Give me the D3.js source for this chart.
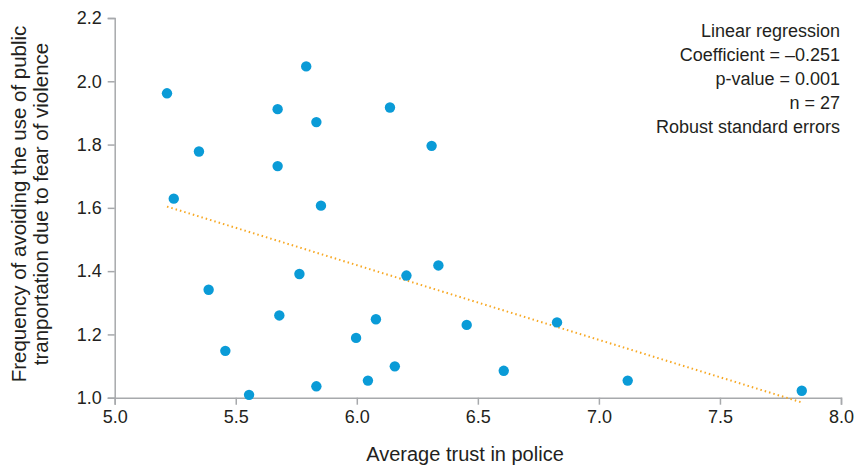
<!DOCTYPE html>
<html><head><meta charset="utf-8">
<script src="https://cdn.jsdelivr.net/npm/d3@7"></script>
<style>
body{margin:0;background:#fff;}
svg text{font-family:"Liberation Sans",Arial,sans-serif;fill:#231f20;}
</style></head><body>
<svg id="c" width="854" height="468"></svg>
<script>
const trust = [5.216,5.791,5.673,5.833,6.137,6.309,5.348,5.673,5.244,5.852,5.388,5.763,6.205,6.337,5.680,6.079,5.997,6.454,5.457,6.157,6.046,5.833,5.555,6.827,6.607,7.119,7.838];
const avoid = [1.962,2.047,1.912,1.871,1.917,1.796,1.778,1.732,1.629,1.607,1.341,1.391,1.386,1.418,1.260,1.248,1.189,1.230,1.148,1.099,1.054,1.036,1.009,1.238,1.085,1.054,1.022];
const regX = [5.216, 7.838];
const regY = [1.604, 0.985];
const xTicks = [5.0,5.5,6.0,6.5,7.0,7.5,8.0];
const yTicks = [1.0,1.2,1.4,1.6,1.8,2.0,2.2];
const notes = ["Linear regression","Coefficient = \u20130.251","p-value = 0.001","n = 27","Robust standard errors"];

const svg = d3.select("#c");
const x = d3.scaleLinear().domain([5,8]).range([114.7,841]);
const y = d3.scaleLinear().domain([1,2.2]).range([397.7,18]);
const axisColor = "#a7a9ac";

const gx = svg.append("g").attr("transform",`translate(0,${y(1)})`)
  .call(d3.axisBottom(x).tickValues(xTicks).tickFormat(d3.format(".1f")).tickSizeOuter(0).tickSize(7).tickPadding(6));
const gy = svg.append("g").attr("transform",`translate(${x(5)},0)`)
  .call(d3.axisLeft(y).tickValues(yTicks).tickFormat(d3.format(".1f")).tickSizeOuter(0).tickSize(7).tickPadding(6));
[gx,gy].forEach(g=>{
  g.select(".domain").attr("stroke",axisColor).attr("stroke-width",1.5);
  g.selectAll(".tick line").attr("stroke",axisColor).attr("stroke-width",1.5);
  g.selectAll(".tick text").attr("font-size",18).attr("fill","#231f20")
    .style("font-family",'"Liberation Sans",Arial,sans-serif');
});

svg.append("line")
  .attr("x1",x(regX[0])).attr("y1",y(regY[0]))
  .attr("x2",x(regX[1])).attr("y2",y(regY[1]))
  .attr("stroke","#f7a823").attr("stroke-width",2).attr("stroke-dasharray","1.5,3");

svg.append("g").selectAll("circle").data(trust).join("circle")
  .attr("cx",(d)=>x(d)).attr("cy",(d,i)=>y(avoid[i])).attr("r",5.2).attr("fill","#0a9bd7");

svg.append("text").attr("x",465).attr("y",461).attr("text-anchor","middle")
  .attr("font-size",20).text("Average trust in police");

const yt = svg.append("text").attr("transform","translate(0,204) rotate(-90)").attr("text-anchor","middle").attr("font-size",20.5);
yt.append("tspan").attr("x",0).attr("y",26).text("Frequency of avoiding the use of public");
yt.append("tspan").attr("x",0).attr("y",48).text("tranportation due to fear of violence");

svg.append("g").selectAll("text").data(notes).join("text")
  .attr("x",840).attr("y",(d,i)=>37+i*24).attr("text-anchor","end").attr("font-size",18).text(d=>d);
</script></body></html>
